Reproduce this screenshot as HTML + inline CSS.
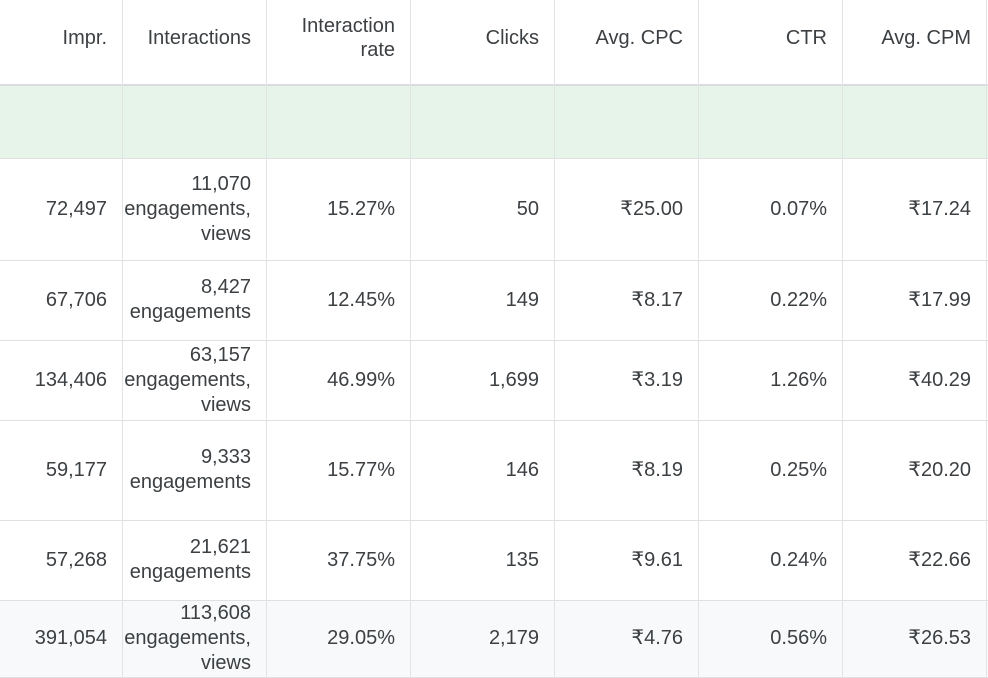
<!DOCTYPE html>
<html><head><meta charset="utf-8">
<style>
html,body{margin:0;padding:0;background:#fff;width:988px;height:678px;overflow:hidden}
body{font-family:"Liberation Sans",sans-serif;color:#3c4043}
#t{position:relative;width:988px;height:678px}
.cell{position:absolute;box-sizing:border-box;overflow:hidden;display:flex;flex-direction:column;justify-content:center;align-items:flex-end;padding-right:15px;font-size:20px;line-height:25px;text-align:right;white-space:nowrap}
.hdr{color:#3c4043;font-size:20px;line-height:24px}
.vl{position:absolute;top:0;width:1px;background:#e3e3e3}
.hl{position:absolute;left:0;width:988px;height:1px;background:#e0e0e0}
</style></head><body>
<div id="t"></div>
<script>
const headers=[["Impr."],["Interactions"],["Interaction","rate"],["Clicks"],["Avg. CPC"],["CTR"],["Avg. CPM"]];
const impr=["72,497","67,706","134,406","59,177","57,268","391,054"];
const interactions=[["11,070","engagements,","views"],["8,427","engagements"],["63,157","engagements,","views"],["9,333","engagements"],["21,621","engagements"],["113,608","engagements,","views"]];
const rates=["15.27%","12.45%","46.99%","15.77%","37.75%","29.05%"];
const clicks=["50","149","1,699","146","135","2,179"];
const cpc=["₹25.00","₹8.17","₹3.19","₹8.19","₹9.61","₹4.76"];
const ctr=["0.07%","0.22%","1.26%","0.25%","0.24%","0.56%"];
const cpm=["₹17.24","₹17.99","₹40.29","₹20.20","₹22.66","₹26.53"];
const colEdges=[0,122,266,410,554,698,842,986];
const rowEdges=[158,260,340,420,520,600,677];
const t=document.getElementById('t');
function cell(x0,x1,y0,y1,lines,cls,name){
  const d=document.createElement('div');
  
  
  d.className='cell '+(cls||'');
  d.style.left=x0+'px';d.style.width=(x1-x0)+'px';d.style.top=y0+'px';d.style.height=(y1-y0)+'px';
  lines.forEach(l=>{const s=document.createElement('div');s.textContent=l;d.appendChild(s);});
  t.appendChild(d);return d;
}
// backgrounds
const g=document.createElement('div');


g.style.cssText='position:absolute;left:0;top:86px;width:988px;height:72px;background:#e6f4ea';
t.appendChild(g);
const tot=document.createElement('div');


tot.style.cssText='position:absolute;left:0;top:600px;width:988px;height:77px;background:#f8f9fa';
t.appendChild(tot);
const hb=document.createElement('div');


hb.style.cssText='position:absolute;left:0;top:84px;width:988px;height:2px;background:#dadce0';
t.appendChild(hb);
rowEdges.forEach(y=>{const h=document.createElement('div');


h.className='hl';h.style.top=y+'px';t.appendChild(h);});
colEdges.slice(1).forEach(x=>{const v=document.createElement('div');


v.className='vl';v.style.left=x+'px';v.style.height='677px';t.appendChild(v);});
// headers
headers.forEach((h,i)=>cell(colEdges[i],colEdges[i+1],0,76,h,'hdr','header-'+h.join('-').toLowerCase().replace(/[^a-z]+/g,'-')));
const cols=[impr.map(v=>[v]),interactions,rates.map(v=>[v]),clicks.map(v=>[v]),cpc.map(v=>[v]),ctr.map(v=>[v]),cpm.map(v=>[v])];
const names=['impr','interactions','interaction-rate','clicks','avg-cpc','ctr','avg-cpm'];
for(let r=0;r<6;r++){
  for(let c=0;c<7;c++){
    cell(colEdges[c],colEdges[c+1],rowEdges[r],rowEdges[r+1],cols[c][r],'',names[c]+'-row'+(r+1));
  }
}
</script>
</body></html>
